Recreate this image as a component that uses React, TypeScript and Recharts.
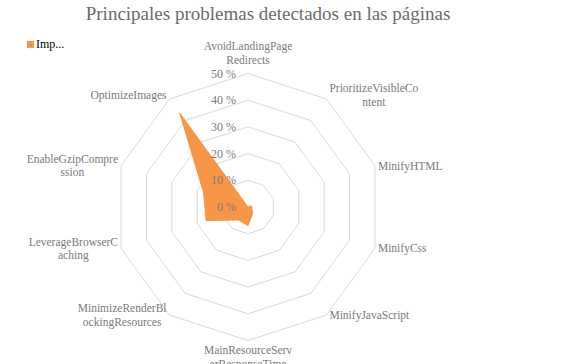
import { RadarChart, Radar, PolarGrid, PolarAngleAxis, PolarRadiusAxis, Legend } from "recharts";

const categories = [
  "AvoidLandingPageRedirects",
  "PrioritizeVisibleContent",
  "MinifyHTML",
  "MinifyCss",
  "MinifyJavaScript",
  "MainResourceServerResponseTime",
  "MinimizeRenderBlockingResources",
  "LeverageBrowserCaching",
  "EnableGzipCompression",
  "OptimizeImages",
];

// how Excel wrapped each category label
const categoryLines = [
  ["AvoidLandingPage", "Redirects"],
  ["PrioritizeVisibleCo", "ntent"],
  ["MinifyHTML"],
  ["MinifyCss"],
  ["MinifyJavaScript"],
  ["MainResourceServ", "erResponseTime"],
  ["MinimizeRenderBl", "ockingResources"],
  ["LeverageBrowserC", "aching"],
  ["EnableGzipCompre", "ssion"],
  ["OptimizeImages"],
];

const values = [0, 0, 1.5, 1.5, 3, 7, 6, 16.5, 17.5, 43.5];

const radiusTicks = [0, 10, 20, 30, 40, 50];

const seriesName = "Imp...";

const data = categories.map((name, i) => ({ name, value: values[i] }));

const CX = 248;
const CY = 207;
const R = 133.5;
const FONT = "'Liberation Serif', 'Times New Roman', serif";
const LABEL_COLOR = "#7a7a7a";
const ORANGE = "#F79646";
const LINE_H = 13.5;

let ctx: CanvasRenderingContext2D | null = null;
const measure = (t: string) => {
  if (!ctx) {
    ctx = document.createElement("canvas").getContext("2d");
  }
  if (!ctx) return t.length * 6;
  ctx.font = `11.5px ${FONT}`;
  return ctx.measureText(t).width;
};

const AngleTick = (props: any) => {
  const { payload, index } = props;
  const angle = (payload.coordinate * Math.PI) / 180;
  const dx = Math.cos(angle);
  const dy = -Math.sin(angle);
  const lines = categoryLines[index] ?? [payload.value];
  const vx = CX + R * dx;
  const vy = CY + R * dy;
  const blockW = Math.max(...lines.map(measure));
  const blockH = lines.length * LINE_H;

  let centerX = vx;
  let topY = vy - blockH / 2;
  if (Math.abs(dx) < 0.1) {
    topY = dy < 0 ? vy - 7 - blockH : vy + 3;
  } else {
    centerX = dx > 0 ? vx + 3 + blockW / 2 : vx - 3 - blockW / 2;
    if (dy < -0.5) topY -= 4;
  }

  return (
    <text textAnchor="middle" fontFamily={FONT} fontSize={11.5} fill={LABEL_COLOR}>
      {lines.map((l: string, i: number) => (
        <tspan key={i} x={centerX} y={topY + LINE_H * i + LINE_H / 2} dominantBaseline="central">
          {l}
        </tspan>
      ))}
    </text>
  );
};

const RadiusTick = (props: any) => {
  const { x, y, payload } = props;
  return (
    <text x={x - 12} y={y} textAnchor="end" dominantBaseline="central" fontFamily={FONT} fontSize={12} fill={LABEL_COLOR}>
      {`${payload.value} %`}
    </text>
  );
};

const LegendContent = () => (
  <div style={{ display: "flex", alignItems: "center", fontFamily: FONT, fontSize: 12, color: "#000" }}>
    <span style={{ width: 7, height: 7, background: ORANGE, display: "inline-block", marginRight: 2 }} />
    <span>{seriesName}</span>
  </div>
);

export default function App() {
  return (
    <div style={{ position: "absolute", left: 0, top: 0, width: 567, height: 364, background: "#fff", overflow: "hidden" }}>
      <style>{`body{margin:0}`}</style>
      <div
        style={{
          position: "absolute",
          top: 3,
          left: 0,
          width: 536,
          textAlign: "center",
          fontFamily: FONT,
          fontSize: 19,
          color: "#6b6b6b",
        }}
      >
        Principales problemas detectados en las páginas
      </div>
      <RadarChart width={567} height={364} data={data} cx={CX} cy={CY} outerRadius={R} margin={{ top: 0, right: 0, bottom: 0, left: 0 }}>
        <PolarGrid gridType="polygon" radialLines={false} stroke="#d9d9d9" />
        <PolarAngleAxis dataKey="name" tick={AngleTick} tickLine={false} axisLine={false} />
        <PolarRadiusAxis
          angle={90}
          domain={[0, 50]}
          ticks={radiusTicks as any}
          tickCount={6}
          axisLine={false}
          tickLine={false}
          tick={RadiusTick}
        />
        <Radar
          name={seriesName}
          dataKey="value"
          fill={ORANGE}
          fillOpacity={1}
          stroke={ORANGE}
          strokeWidth={1}
          isAnimationActive={false}
        />
        <Legend
          layout="vertical"
          verticalAlign="top"
          align="left"
          wrapperStyle={{ left: 27, top: 37, width: 80 }}
          content={LegendContent}
        />
      </RadarChart>
    </div>
  );
}
